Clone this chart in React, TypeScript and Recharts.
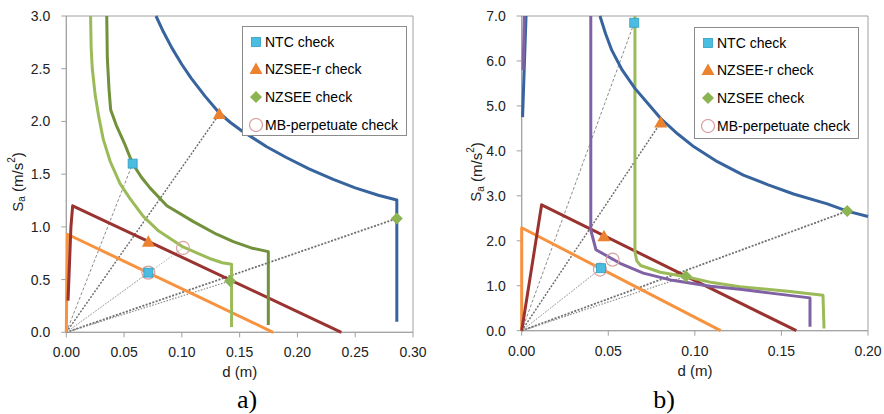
import React from "react";
import { ScatterChart, Scatter, XAxis, YAxis, ReferenceArea, Legend } from "recharts";

type Pt = [number, number];

// ---- panel a) ----
const aSpectrum: Pt[] = [
  [0.0776, 3.0], [0.084, 2.85], [0.0912, 2.7], [0.1, 2.54], [0.108, 2.41], [0.12, 2.24],
  [0.1324, 2.08], [0.142, 1.99], [0.152, 1.91], [0.1734, 1.76], [0.19, 1.66], [0.21, 1.55],
  [0.231, 1.45], [0.25, 1.37], [0.27, 1.3], [0.286, 1.255], [0.286, 0.1],
];
const aDarkGreen: Pt[] = [
  [0.035, 3.0], [0.0355, 2.6], [0.037, 2.3], [0.0384, 2.11], [0.043, 1.97], [0.05, 1.8],
  [0.0574, 1.6], [0.065, 1.47], [0.0724, 1.37], [0.087, 1.2], [0.11, 1.05], [0.13, 0.93],
  [0.1445, 0.86], [0.16, 0.8], [0.1748, 0.765], [0.1748, 0.07],
];
const aLightGreen: Pt[] = [
  [0.021, 3.0], [0.0215, 2.7], [0.0225, 2.5], [0.025, 2.25], [0.028, 2.05], [0.032, 1.83],
  [0.038, 1.62], [0.0465, 1.41], [0.055, 1.27], [0.0666, 1.1], [0.08, 0.96], [0.101, 0.81],
  [0.124, 0.7], [0.135, 0.66], [0.143, 0.645], [0.143, 0.05],
];
const aRed: Pt[] = [[0.0015, 0.3], [0.004, 1.0], [0.0055, 1.2], [0.238, 0.0]];
const aOrange: Pt[] = [[0.0, 0.0], [0.001, 0.93], [0.179, 0.0]];

const aNtc: Pt[] = [[0.0574, 1.6], [0.071, 0.566]];
const aNzseeR: Pt[] = [[0.1324, 2.07], [0.071, 0.86]];
const aNzsee: Pt[] = [[0.286, 1.08], [0.1417, 0.487]];
const aMb: Pt[] = [[0.101, 0.8], [0.071, 0.566]];

const aXTicks = [0, 0.05, 0.1, 0.15, 0.2, 0.25, 0.3];
const aYTicks = [0, 0.5, 1.0, 1.5, 2.0, 2.5, 3.0];

// ---- panel b) ----
const bSpectrumElastic: Pt[] = [[0.0005, 4.75], [0.0025, 7.0]];
const bPurpleElastic: Pt[] = [[0.0008, 5.8], [0.0015, 7.0]];
const bSpectrum: Pt[] = [
  [0.0452, 7.0], [0.0485, 6.6], [0.052, 6.24], [0.058, 5.8], [0.0654, 5.39], [0.073, 5.05],
  [0.0803, 4.72], [0.09, 4.38], [0.0995, 4.09], [0.113, 3.76], [0.128, 3.46], [0.142, 3.25],
  [0.157, 3.04], [0.1765, 2.82], [0.188, 2.66], [0.2, 2.54],
];
const bPurple: Pt[] = [
  [0.0399, 7.0], [0.0399, 2.24], [0.0429, 1.8], [0.0568, 1.5], [0.0702, 1.28], [0.087, 1.12],
  [0.109, 0.99], [0.126, 0.92], [0.145, 0.83], [0.1665, 0.73], [0.1665, 0.09],
];
const bGreen: Pt[] = [
  [0.0654, 7.0], [0.0654, 1.75], [0.0665, 1.55], [0.0687, 1.45], [0.08, 1.3], [0.095, 1.2],
  [0.11, 1.07], [0.126, 0.98], [0.155, 0.87], [0.174, 0.79], [0.1746, 0.05],
];
const bRed: Pt[] = [[0.0, 0.0], [0.0115, 2.8], [0.1586, 0.0]];
const bOrange: Pt[] = [[0.0, 0.0], [0.0, 2.29], [0.1149, 0.0]];

const bNtc: Pt[] = [[0.065, 6.85], [0.0458, 1.39]];
const bNzseeR: Pt[] = [[0.0803, 4.63], [0.0475, 2.1]];
const bNzsee: Pt[] = [[0.188, 2.66], [0.0949, 1.21]];
const bMb: Pt[] = [[0.0525, 1.58], [0.0452, 1.36]];

const bXTicks = [0, 0.05, 0.1, 0.15, 0.2];
const bYTicks = [0, 1, 2, 3, 4, 5, 6, 7];

const BLUE = "#37649E";
const DARK_GREEN = "#71913A";
const LIGHT_GREEN = "#9BBB59";
const RED = "#9A3330";
const ORANGE = "#F7923E";
const PURPLE = "#8062A4";
const AXIS = "#A0A0A0";
const FONT = '"Liberation Sans", Arial, sans-serif';

const toXY = (pts: Pt[]) => pts.map(([x, y]) => ({ x, y }));

const Square = ({ cx, cy }: any) => (
  <rect x={cx - 4.5} y={cy - 4.5} width={9} height={9} fill="#4BBDE0" stroke="#2F9EC2" strokeWidth={0.8} />
);
const Triangle = ({ cx, cy }: any) => (
  <path d={`M${cx},${cy - 6.5} L${cx + 6.5},${cy + 5} L${cx - 6.5},${cy + 5} Z`} fill="#EC8230" />
);
const Diamond = ({ cx, cy }: any) => (
  <path d={`M${cx},${cy - 6} L${cx + 6},${cy} L${cx},${cy + 6} L${cx - 6},${cy} Z`} fill="#8DB452" />
);
const Ring = ({ cx, cy }: any) => (
  <circle cx={cx} cy={cy} r={6.5} fill="none" stroke="#D9A0A0" strokeWidth={1.2} />
);
const NoDot = () => <g />;

const markerKinds = [
  { name: "NTC check", Shape: Square },
  { name: "NZSEE-r check", Shape: Triangle },
  { name: "NZSEE check", Shape: Diamond },
  { name: "MB-perpetuate check", Shape: Ring },
];

const legendContent = () => (
  <div
    style={{
      boxSizing: "border-box",
      width: "100%",
      height: "100%",
      border: "1px solid #8C8C8C",
      background: "#fff",
      paddingTop: 1,
      fontFamily: FONT,
    }}
  >
    {markerKinds.map(({ name, Shape }) => (
      <div key={name} style={{ display: "flex", alignItems: "center", height: 27.6 }}>
        <svg width={14} height={14} style={{ marginLeft: 6 }}>
          <Shape cx={7} cy={7} />
        </svg>
        <span style={{ marginLeft: 2, fontSize: 14, color: "#000", lineHeight: 1 }}>{name}</span>
      </div>
    ))}
  </div>
);

const yTitle = (cx: number, cy: number) => () => (
  <text
    x={cx}
    y={cy}
    transform={`rotate(-90 ${cx} ${cy})`}
    textAnchor="middle"
    dominantBaseline="central"
    fontSize={15}
    fill="#222"
    fontFamily={FONT}
  >
    S<tspan dy={4} fontSize={10}>a</tspan>
    <tspan dy={-4}> (m/s</tspan>
    <tspan dy={-6} fontSize={10}>2</tspan>
    <tspan dy={6}>)</tspan>
  </text>
);

const xTitle = (cx: number, cy: number) => () => (
  <text x={cx} y={cy} textAnchor="middle" dominantBaseline="central" fontSize={15} fill="#222" fontFamily={FONT}>
    d (m)
  </text>
);

type Curve = { pts: Pt[]; color: string };
type Ray = { to: Pt; color: string; dash: string; width: number };

type PanelProps = {
  left: number;
  margin: { top: number; right: number; bottom: number; left: number };
  xMax: number;
  yMax: number;
  xTicks: number[];
  yTicks: number[];
  curves: Curve[];
  rays: Ray[];
  markers: { ntc: Pt[]; nzseeR: Pt[]; nzsee: Pt[]; mb: Pt[] };
  legendPos: { left: number; top: number; width: number; height: number };
  yTitlePos: [number, number];
  xTitlePos: [number, number];
};

const Panel = (p: PanelProps) => (
  <div style={{ position: "absolute", left: p.left, top: 0 }}>
    <ScatterChart width={440} height={414} margin={p.margin}>
      <XAxis
        type="number"
        dataKey="x"
        domain={[0, p.xMax]}
        ticks={p.xTicks}
        tickFormatter={(v: number) => v.toFixed(2)}
        height={40}
        stroke={AXIS}
        tickSize={5}
        tickMargin={10}
        tick={{ fontSize: 14, fill: "#222", fontFamily: FONT }}
        label={{ content: xTitle(p.xTitlePos[0], p.xTitlePos[1]) }}
      />
      <YAxis
        type="number"
        dataKey="y"
        domain={[0, p.yMax]}
        ticks={p.yTicks}
        tickFormatter={(v: number) => v.toFixed(1)}
        width={40}
        stroke={AXIS}
        tickSize={5}
        tickMargin={11}
        tick={{ fontSize: 14, fill: "#222", fontFamily: FONT }}
        label={{ content: yTitle(p.yTitlePos[0], p.yTitlePos[1]) }}
      />
      <ReferenceArea x1={0} x2={p.xMax} y1={0} y2={p.yMax} fill="none" stroke={AXIS} strokeWidth={1} />
      {p.rays.map((r, i) => (
        <Scatter
          key={`ray${i}`}
          data={toXY([[0, 0], r.to])}
          shape={NoDot}
          line={{ stroke: r.color, strokeWidth: r.width, strokeDasharray: r.dash }}
          legendType="none"
          isAnimationActive={false}
        />
      ))}
      {p.curves.map((c, i) => (
        <Scatter
          key={`curve${i}`}
          data={toXY(c.pts)}
          shape={NoDot}
          line={{ stroke: c.color, strokeWidth: 3, strokeLinejoin: "round" }}
          legendType="none"
          isAnimationActive={false}
        />
      ))}
      <Scatter name="MB-perpetuate check" data={toXY(p.markers.mb)} shape={Ring} isAnimationActive={false} />
      <Scatter name="NZSEE check" data={toXY(p.markers.nzsee)} shape={Diamond} isAnimationActive={false} />
      <Scatter name="NZSEE-r check" data={toXY(p.markers.nzseeR)} shape={Triangle} isAnimationActive={false} />
      <Scatter name="NTC check" data={toXY(p.markers.ntc)} shape={Square} isAnimationActive={false} />
      <Legend
        layout="vertical"
        align="center"
        verticalAlign="middle"
        content={legendContent}
        wrapperStyle={{ ...p.legendPos }}
      />
    </ScatterChart>
  </div>
);

const rayStyles = (pts: Pt[]): Ray[] => [
  { to: pts[0], color: "#8C8C8C", dash: "3 2", width: 1 },
  { to: pts[1], color: "#707070", dash: "2 1.5", width: 1.5 },
  { to: pts[2], color: "#707070", dash: "2 1.5", width: 1.8 },
  { to: pts[3], color: "#8C8C8C", dash: "1.5 1.5", width: 1.2 },
  { to: pts[4], color: "#B0B0B0", dash: "1.5 1.5", width: 1 },
  { to: pts[5], color: "#B0B0B0", dash: "1.5 1.5", width: 1 },
];

const Caption = ({ cx, text }: { cx: number; text: string }) => (
  <div
    style={{
      position: "absolute",
      left: cx - 50,
      top: 387,
      width: 100,
      textAlign: "center",
      fontFamily: '"Liberation Serif", "Times New Roman", serif',
      fontSize: 26,
      lineHeight: "26px",
      color: "#000",
    }}
  >
    {text}
  </div>
);

export default function App() {
  return (
    <div style={{ position: "absolute", left: 0, top: 0, width: 884, height: 414, background: "#fff", fontFamily: FONT }}>
      <Panel
        left={0}
        margin={{ top: 16, right: 27, bottom: 41.7, left: 26.3 }}
        xMax={0.3}
        yMax={3}
        xTicks={aXTicks}
        yTicks={aYTicks}
        curves={[
          { pts: aOrange, color: ORANGE },
          { pts: aRed, color: RED },
          { pts: aLightGreen, color: LIGHT_GREEN },
          { pts: aDarkGreen, color: DARK_GREEN },
          { pts: aSpectrum, color: BLUE },
        ]}
        rays={rayStyles([aNtc[0], aNzseeR[0], aNzsee[0], aNzsee[1], aMb[0], aNtc[1]])}
        markers={{ ntc: aNtc, nzseeR: aNzseeR, nzsee: aNzsee, mb: aMb }}
        legendPos={{ left: 242, top: 26, width: 165, height: 110 }}
        yTitlePos={[17, 182]}
        xTitlePos={[239.7, 371.7]}
      />
      <Panel
        left={444}
        margin={{ top: 16, right: 16, bottom: 43.3, left: 37.7 }}
        xMax={0.2}
        yMax={7}
        xTicks={bXTicks}
        yTicks={bYTicks}
        curves={[
          { pts: bOrange, color: ORANGE },
          { pts: bRed, color: RED },
          { pts: bGreen, color: LIGHT_GREEN },
          { pts: bPurple, color: PURPLE },
          { pts: bSpectrumElastic, color: BLUE },
          { pts: bPurpleElastic, color: PURPLE },
          { pts: bSpectrum, color: BLUE },
        ]}
        rays={rayStyles([bNtc[0], bNzseeR[0], bNzsee[0], bNzsee[1], bMb[0], bNtc[1]])}
        markers={{ ntc: bNtc, nzseeR: bNzseeR, nzsee: bNzsee, mb: bMb }}
        legendPos={{ left: 250, top: 27, width: 165, height: 112 }}
        yTitlePos={[31.7, 172]}
        xTitlePos={[251, 370.7]}
      />
      <Caption cx={247} text="a)" />
      <Caption cx={664} text="b)" />
    </div>
  );
}
